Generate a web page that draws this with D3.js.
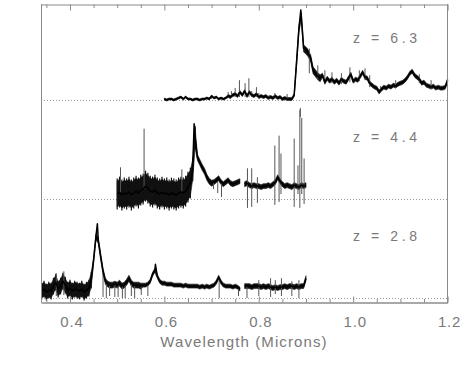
<!DOCTYPE html>
<html><head><meta charset="utf-8">
<script src="https://cdn.jsdelivr.net/npm/d3@7/dist/d3.min.js"></script>
<style>body{margin:0;background:#fff}svg{display:block}</style>
</head><body>
<svg id="chart" width="474" height="365"></svg>
<script>
// ---------- data ----------
const xMajorTicks = [0.4, 0.6, 0.8, 1.0, 1.2];
const xTickLabels = ["0.4", "0.6", "0.8", "1.0", "1.2"];
const xMinorTicks = [0.35, 0.45, 0.5, 0.55, 0.65, 0.7, 0.75, 0.85, 0.9, 0.95, 1.05, 1.1, 1.15];
const xAxisTitle = "Wavelength (Microns)";
const redshiftLabels = ["z = 6.3", "z = 4.4", "z = 2.8"];
const offsets = [200, 100, 0];

// z = 6.3 : flux sampled every 0.005 micron from 0.600
const lamStart63 = 0.600;
const flux63 = [1,0,1,1,0,1,2,3,1,3, 1,1,0,1,1,0,1,1,2,1,
  4,2,3,1,2,1,2,4,3,5, 6,4,8,5,9,4,8,5,4,6,
  3,4,3,4,2,3,2,4,2,3, 1,2,1,1,1,5,38,72,85,52,
  50,47,42,30,27,24,22,25,18,22, 19,21,18,20,17,21,19,18,22,26,
  19,21,20,24,28,23,22,17,15,13, 12,8,11,13,12,14,13,15,14,16,
  17,18,20,23,27,29,25,23,21,17, 18,15,14,13,14,12,13,12,12,13, 20];
const peaks63 = [[0.889, 91], [0.901, 52]];
const noise63 = [[0.6, 0.73, 1], [0.73, 0.875, 1.5], [0.875, 0.93, 3.5], [0.93, 1.2, 2]];
const sky63 = [[0.700, 1, 5], [0.735, 2, 8], [0.742, 2, 9], [0.750, 3, 12], [0.759, 3, 20], [0.771, 3, 17],
  [0.779, 3, 22], [0.785, 3, 9], [0.795, 3, 13], [0.800, 2, 7], [0.822, 1, 5], [0.834, 1, 7],
  [0.907, 27, 52], [0.993, 18, 33], [0.888, -17, -8], [0.86, 0, 6], [1.058, 8, 14],
  [0.925, 20, 35], [0.940, 16, 30], [0.955, 17, 28], [0.975, 16, 27], [1.013, 19, 30], [1.025, 20, 32],
  [1.035, 13, 25], [1.090, 12, 20], [1.140, 17, 26], [1.165, 11, 20]];

// z = 4.4 : flux sampled every 0.005 micron from 0.500 (null = gap)
const lamStart44 = 0.500;
const flux44 = [5,7,4,6,5,7,4,6,8,6, 9,10,13,11,8,7,9,6,5,7,
  5,6,4,6,5,4,6,7,6,8, 12,16,30,62,42,37,32,28,22,18,
  16,17,19,21,17,15,17,19,16,15, 16,17,18,null,15,16,14,13,14,13,
  13,12,13,13,14,13,15,17,22,18, 15,13,14,13,12,14,13,12,14,13, 14];
const peaks44 = [[0.663, 76]];
const noise44 = [[0.5, 0.655, 13], [0.655, 0.665, 10], [0.665, 0.70, 3], [0.70, 0.76, 2.5], [0.77, 0.9, 2.5]];
const sky44 = [[0.507, 5, 32], [0.557, 10, 71], [0.637, 8, 30], [0.721, 2, 16], [0.776, -9, 31], [0.785, -8, 31],
  [0.797, -4, 22], [0.834, -6, 54], [0.843, -3, 64], [0.847, 5, 46], [0.875, -8, 61], [0.883, 5, 34],
  [0.887, -9, 90], [0.891, 5, 82], [0.896, -5, 41], [0.704, 10, 17], [0.713, 6, 17]];

// z = 2.8 : flux sampled every 0.005 micron from 0.340 (null = gap)
const lamStart28 = 0.340;
const flux28 = [7,9,6,8,7,12,16,9,12,17, 13,8,10,7,9,8,7,9,6,8,
  10,18,38,62,58,42,27,17,14,13, 13,14,13,15,12,13,16,20,15,13,
  13,13,12,13,13,14,17,24,28,22, 17,15,15,14,14,14,13,13,13,13,
  12,13,12,12,12,12,12,11,12,11, 12,11,12,13,16,21,16,13,12,12,
  12,11,12,11,9,null,12,12,12,11, 12,12,12,11,12,11,12,11,10,11,
  10,11,11,12,11,12,12,11,12,11, 12,12,20];
const peaks28 = [[0.458, 75], [0.581, 34]];
const noise28 = [[0.34, 0.445, 7], [0.445, 0.55, 3], [0.55, 0.76, 2], [0.77, 0.9, 2.5]];
const sky28 = [[0.371, 2, 25], [0.387, 3, 27], [0.470, 1, 25], [0.477, 0, 14], [0.484, 2, 14], [0.495, 1, 14],
  [0.502, 1, 15], [0.511, 0, 13], [0.517, 0, 13], [0.530, 2, 15], [0.537, 0, 13], [0.551, 3, 13], [0.565, 2, 14],
  [0.716, 0, 20], [0.757, 2, 10], [0.775, 0, 12], [0.800, 2, 18], [0.825, 1, 20], [0.835, 4, 18], [0.848, 2, 20],
  [0.870, 2, 17], [0.885, 0, 18]];

const lamStep = 0.005;

// ---------- drawing ----------
const svg = d3.select("#chart");
const FONT = "'Liberation Sans', Arial, sans-serif";
const AX = "#8a8a8a";
const TXT = "#7a7a7a";

const x = d3.scaleLinear().domain([0.3386, 1.2]).range([41, 447.6]);
const y = d3.scaleLinear().domain([0, 200]).range([298, 100]);
const plotTop = 4, plotBottom = 302.5;

const spectra = [
  {label: redshiftLabels[0], offset: offsets[0], start: lamStart63, flux: flux63, peaks: peaks63, noise: noise63, sky: sky63},
  {label: redshiftLabels[1], offset: offsets[1], start: lamStart44, flux: flux44, peaks: peaks44, noise: noise44, sky: sky44},
  {label: redshiftLabels[2], offset: offsets[2], start: lamStart28, flux: flux28, peaks: peaks28, noise: noise28, sky: sky28}
];

function noiseAt(bands, lam) {
  for (const b of bands) if (lam >= b[0] - 1e-9 && lam <= b[1] + 1e-9) return b[2];
  return 0;
}

// zero lines (dotted)
svg.append("g").selectAll("line").data(offsets).join("line")
  .attr("x1", x.range()[0]).attr("x2", x.range()[1])
  .attr("y1", d => y(d) + 0.5).attr("y2", d => y(d) + 0.5)
  .attr("stroke", "#9a9a9a").attr("stroke-width", 1).attr("stroke-dasharray", "1,2");

const line = d3.line().defined(d => d[1] != null).x(d => x(d[0])).y(d => d[2]);

spectra.forEach(s => {
  const g = svg.append("g");
  const pts = s.flux.map((f, i) => [+(s.start + i * lamStep).toFixed(4), f]);
  // scatter envelope (filled band)
  const band = d3.area().defined(p => p[1] != null)
    .x(p => x(p[0]))
    .y0(p => y(s.offset + p[1] - noiseAt(s.noise, p[0])))
    .y1(p => y(s.offset + p[1] + noiseAt(s.noise, p[0])));
  g.append("path").datum(pts).attr("d", band).attr("fill", "#111").attr("stroke", "#111").attr("stroke-width", 0.6);
  // streaks inside the band
  g.selectAll("line.nz").data(pts.filter(p => p[1] != null && noiseAt(s.noise, p[0]) >= 5)).join("line")
    .attr("x1", p => x(p[0])).attr("x2", p => x(p[0]))
    .attr("y1", p => y(s.offset + p[1] - noiseAt(s.noise, p[0]) * 1.2))
    .attr("y2", p => y(s.offset + p[1] + noiseAt(s.noise, p[0]) * 1.2))
    .attr("stroke", "#111").attr("stroke-width", 1.2);
  // sky residual spikes
  g.selectAll("line.sky").data(s.sky).join("line")
    .attr("x1", d => x(d[0])).attr("x2", d => x(d[0]))
    .attr("y1", d => y(s.offset + d[1])).attr("y2", d => y(s.offset + d[2]))
    .attr("stroke", "#555").attr("stroke-width", 1);
  // main trace
  const all = pts.concat(s.peaks).sort((a, b) => a[0] - b[0])
    .map(p => [p[0], p[1], p[1] == null ? 0 : y(s.offset + p[1])]);
  g.append("path").datum(all).attr("d", line)
    .attr("fill", "none").attr("stroke", "#000").attr("stroke-width", 1.5).attr("stroke-linejoin", "round");
  // label
  svg.append("text").attr("x", 353).attr("y", y(s.offset) - 57)
    .attr("font-family", FONT).attr("font-size", 14).attr("letter-spacing", 3.6)
    .attr("fill", TXT).text(s.label);
});

// frame: left / right borders
svg.append("line").attr("x1", 41.5).attr("x2", 41.5).attr("y1", plotTop).attr("y2", plotBottom).attr("stroke", AX);
svg.append("line").attr("x1", 447.5).attr("x2", 447.5).attr("y1", plotTop).attr("y2", plotBottom).attr("stroke", AX);

function styleAxis(g) {
  g.select(".domain").attr("stroke", AX);
  g.selectAll(".tick line").attr("stroke", AX);
}
// bottom axis
const gb = svg.append("g").attr("transform", `translate(0,${plotBottom})`)
  .call(d3.axisBottom(x).tickValues(xMajorTicks).tickSizeInner(-6).tickSizeOuter(0)
    .tickFormat((d, i) => xTickLabels[i]).tickPadding(14));
styleAxis(gb);
gb.select(".domain").attr("stroke", "#555");
gb.selectAll(".tick text").attr("font-family", FONT).attr("font-size", 15).attr("fill", TXT)
  .attr("letter-spacing", 0.8).attr("dx", 1.5);
const gbm = svg.append("g").attr("transform", `translate(0,${plotBottom})`)
  .call(d3.axisBottom(x).tickValues(xMinorTicks).tickSizeInner(-3.5).tickSizeOuter(0).tickFormat(""));
styleAxis(gbm); gbm.select(".domain").remove();
// top axis
const gt = svg.append("g").attr("transform", `translate(0,${plotTop + 0.5})`)
  .call(d3.axisTop(x).tickValues(xMajorTicks).tickSizeInner(-6).tickSizeOuter(0).tickFormat(""));
styleAxis(gt);
const gtm = svg.append("g").attr("transform", `translate(0,${plotTop + 0.5})`)
  .call(d3.axisTop(x).tickValues(xMinorTicks).tickSizeInner(-3.5).tickSizeOuter(0).tickFormat(""));
styleAxis(gtm); gtm.select(".domain").remove();

// axis title
svg.append("text").attr("x", 244).attr("y", 347).attr("text-anchor", "middle")
  .attr("font-family", FONT).attr("font-size", 15).attr("letter-spacing", 1.1)
  .attr("fill", TXT).text(xAxisTitle);
</script>
</body></html>
